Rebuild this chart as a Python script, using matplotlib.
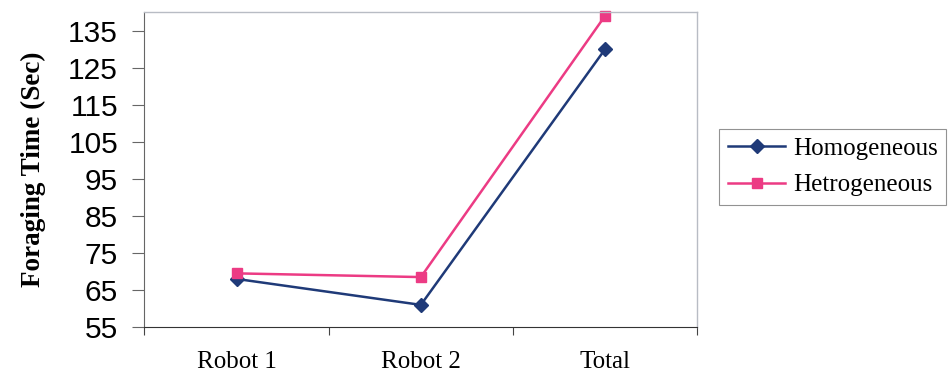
import matplotlib
matplotlib.use("Agg")
import matplotlib.pyplot as plt

categories = ["Robot 1", "Robot 2", "Total"]
homogeneous = [68, 61, 130]
hetrogeneous = [69.5, 68.5, 139]
y_ticks = [55, 65, 75, 85, 95, 105, 115, 125, 135]

fig = plt.figure(figsize=(9.5, 3.76), dpi=100)
ax = fig.add_axes([0.152, 0.13, 0.582, 0.838])

x = list(range(len(categories)))
ax.plot(x, homogeneous, color="#1f3a78", marker="D", markersize=7.5, lw=1.8,
        label="Homogeneous", clip_on=False)
ax.plot(x, hetrogeneous, color="#ec3b84", marker="s", markersize=7.5, lw=1.8,
        label="Hetrogeneous", clip_on=False)

ax.set_xlim(-0.5, 2.5)
ax.set_ylim(55, 140)
ax.set_yticks(y_ticks)
ax.set_yticklabels([str(v) for v in y_ticks], fontfamily="Liberation Sans", fontsize=21.5)
ax.set_xticks([-0.5, 0.5, 1.5, 2.5])
ax.set_xticklabels([])
ax.set_xticks(x, minor=True)
ax.set_xticklabels(categories, minor=True, fontfamily="Liberation Serif", fontsize=18)
ax.tick_params(axis="x", which="minor", length=0, pad=17)
ax.tick_params(axis="x", which="major", length=6, direction="out", color="#444444")
ax.tick_params(axis="y", length=9, direction="out", color="#666666", pad=10)

for side in ("top", "right"):
    ax.spines[side].set_color("#b8bcc4")
    ax.spines[side].set_linewidth(1.0)
ax.spines["left"].set_color("#666666")
ax.spines["bottom"].set_color("#333333")

ax.set_ylabel("Foraging Time (Sec)", fontfamily="Liberation Serif", fontweight="bold",
              fontsize=19.5, labelpad=16)

leg = fig.legend(loc="center left", bbox_to_anchor=(0.757, 0.556),
                 prop={"family": "Liberation Serif", "size": 18},
                 frameon=True, fancybox=False, edgecolor="#777777",
                 handlelength=2.3, handletextpad=0.3, borderpad=0.35,
                 labelspacing=0.55, borderaxespad=0)
leg.get_frame().set_linewidth(0.8)

fig.savefig("out.png", dpi=100)
